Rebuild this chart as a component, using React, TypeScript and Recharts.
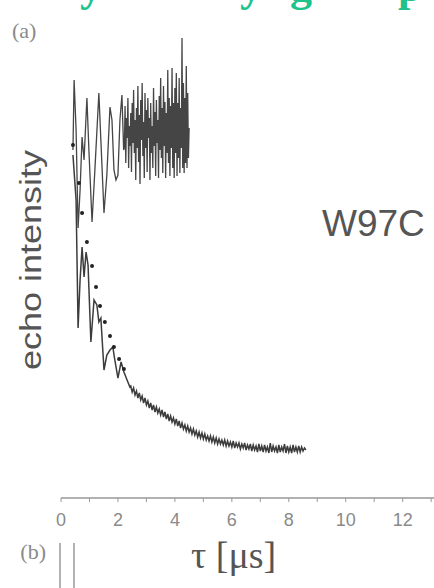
import React from "react";
import { ComposedChart, Line, XAxis, YAxis } from "recharts";

// x ticks (tau in microseconds)
const xTicks = [0, 1, 2, 3, 4, 5, 6, 7, 8, 9, 10, 11, 12, 13];
const xLabelTicks = [0, 2, 4, 6, 8, 10, 12];

// upper oscillating trace (tau, echo intensity in arbitrary units)
const upperT = [
  0.42, 0.46, 0.53, 0.6, 0.67, 0.74, 0.81, 0.91, 0.98, 1.09, 1.19, 1.33, 1.4, 1.51, 1.61, 1.72, 1.79, 1.86, 1.93, 2.0,
  2.07, 2.14, 2.2,
  2.225, 2.25, 2.275, 2.3, 2.325, 2.35, 2.375, 2.4, 2.425, 2.45, 2.475, 2.5, 2.525, 2.55, 2.575, 2.6, 2.625, 2.65,
  2.675, 2.7, 2.725, 2.75, 2.775, 2.8, 2.825, 2.85, 2.875, 2.9, 2.925, 2.95, 2.975, 3.0, 3.025, 3.05, 3.075, 3.1,
  3.125, 3.15, 3.175, 3.2, 3.225, 3.25, 3.275, 3.3, 3.325, 3.35, 3.375, 3.4, 3.425, 3.45, 3.475, 3.5, 3.525, 3.55,
  3.575, 3.6, 3.625, 3.65, 3.675, 3.7, 3.725, 3.75, 3.775, 3.8, 3.825, 3.85, 3.875, 3.9, 3.925, 3.95, 3.975, 4.0,
  4.025, 4.05, 4.075, 4.1, 4.125, 4.15, 4.175, 4.2, 4.225, 4.25, 4.275, 4.3, 4.325, 4.35, 4.375, 4.4, 4.425, 4.45,
  4.475, 4.5,
];
const upperV = [
  348, 418, 368, 270, 308, 361, 338, 400, 348, 276, 328, 405, 358, 285, 323, 391, 378, 328, 318, 323,
  378, 403, 348,
  350, 392, 335, 380, 360, 400, 330, 372, 352, 385, 326, 395, 355, 408, 345, 378, 318, 390,
  350, 412, 336, 383, 314, 398, 358, 415, 342, 376, 320, 405, 350, 388, 326, 400, 360, 380,
  318, 395, 345, 372, 330, 410, 352, 386, 322, 398, 355, 378, 320, 402, 348, 420, 340, 390,
  325, 412, 352, 396, 320, 385, 345, 428, 335, 400, 322, 392, 350, 430, 330, 395, 320, 410,
  345, 425, 322, 395, 340, 420, 325, 390, 350, 460, 330, 415, 325, 400, 335, 432, 330, 405,
  340, 370,
];

// lower decaying trace
const lowerT = [
  0.42, 0.53, 0.6, 0.67, 0.74, 0.81, 0.88, 0.95, 1.05, 1.16, 1.26, 1.33, 1.4, 1.51, 1.61, 1.72, 1.82, 1.89, 2.0, 2.11,
  2.21, 2.32, 2.42,
  2.45, 2.5, 2.55, 2.6, 2.65, 2.7, 2.75, 2.8, 2.85, 2.9, 2.95, 3.0, 3.05, 3.1, 3.15, 3.2, 3.25, 3.3, 3.35, 3.4,
  3.45, 3.5, 3.55, 3.6, 3.65, 3.7, 3.75, 3.8, 3.85, 3.9, 3.95, 4.0, 4.05, 4.1, 4.15, 4.2, 4.25, 4.3, 4.35, 4.4,
  4.45, 4.5, 4.55, 4.6, 4.65, 4.7, 4.75, 4.8, 4.85, 4.9, 4.95, 5.0, 5.05, 5.1, 5.15, 5.2, 5.25, 5.3, 5.35, 5.4,
  5.45, 5.5, 5.55, 5.6, 5.65, 5.7, 5.75, 5.8, 5.85, 5.9, 5.95, 6.0, 6.05, 6.1, 6.15, 6.2, 6.25, 6.3, 6.35, 6.4,
  6.45, 6.5, 6.55, 6.6, 6.65, 6.7, 6.75, 6.8, 6.85, 6.9, 6.95, 7.0, 7.05, 7.1, 7.15, 7.2, 7.25, 7.3, 7.35, 7.4,
  7.45, 7.5, 7.55, 7.6, 7.65, 7.7, 7.75, 7.8, 7.85, 7.9, 7.95, 8.0, 8.05, 8.1, 8.15, 8.2, 8.25, 8.3, 8.35, 8.4,
  8.45, 8.5, 8.55, 8.6,
];
const lowerV = [
  343, 298, 170, 218, 251, 221, 246, 233, 156, 198, 193, 176, 180, 128, 143, 148, 151, 138, 120, 136,
  126, 118, 111,
  112, 106, 110, 103, 107, 100, 105, 98, 102, 95, 100, 93, 97, 90, 95, 88, 93, 86, 91, 85,
  89, 83, 88, 81, 86, 79, 84, 77, 82, 76, 80, 74, 79, 72, 77, 70, 75, 69, 73, 67,
  72, 66, 70, 64, 69, 63, 67, 61, 66, 60, 65, 59, 64, 58, 62, 57, 62, 56, 61, 55,
  60, 54, 59, 54, 58, 53, 58, 52, 57, 52, 56, 51, 57, 50, 55, 51, 55, 49, 54, 50,
  55, 48, 53, 49, 54, 47, 53, 48, 52, 46, 54, 47, 52, 46, 53, 47, 51, 45, 55, 46,
  52, 47, 51, 45, 53, 46, 51, 47, 54, 45, 52, 46, 51, 45, 53, 46, 51, 46, 52, 46,
  51, 47, 50, 48,
];

// fitted points (dots)
const dotT = [0.42, 0.63, 0.74, 0.91, 1.09, 1.23, 1.37, 1.54, 1.72, 1.86, 2.04, 2.21];
const dotV = [353, 315, 285, 256, 232, 211, 192, 176, 162, 151, 139, 129];

const upperData = upperT.map((t, i) => ({ t, v: upperV[i] }));
const lowerData = lowerT.map((t, i) => ({ t, v: lowerV[i] }));
const dotData = dotT.map((t, i) => ({ t, v: dotV[i] }));

const Tick = (props: any) => {
  const { x, y, payload } = props;
  if (!xLabelTicks.includes(payload.value)) return <g />;
  return (
    <text x={x} y={y} dy="0.71em" textAnchor="middle" fontFamily="Liberation Sans, Arial, sans-serif" fontSize={18} fill="#8a8a8a">
      {payload.value}
    </text>
  );
};

export default function App() {
  return (
    <div style={{ position: "absolute", left: 0, top: 0, width: 434, height: 588, background: "#fff", overflow: "hidden" }}>
      <ComposedChart width={434} height={588} margin={{ top: 5, right: 0, left: 61, bottom: 60 }}>
        <XAxis
          type="number"
          dataKey="t"
          domain={[0, 13.1]}
          ticks={xTicks}
          interval={0}
          allowDataOverflow
          height={30}
          tickSize={4}
          tickMargin={11}
          tick={<Tick />}
          axisLine={{ stroke: "#999", strokeWidth: 1.5 }}
          tickLine={{ stroke: "#999" }}
        />
        <YAxis
          type="number"
          dataKey="v"
          domain={[0, 493]}
          width={0}
          tick={false}
          tickLine={false}
          axisLine={{ stroke: "#999", strokeWidth: 1.5 }}
        />
        <Line data={lowerData} dataKey="v" type="linear" stroke="#3c3c3c" strokeWidth={1.5} dot={false} isAnimationActive={false} />
        <Line data={upperData} dataKey="v" type="linear" stroke="#454545" strokeWidth={1.3} dot={false} isAnimationActive={false} />
        <Line data={dotData} dataKey="v" type="linear" stroke="none" dot={{ r: 2, fill: "#222", stroke: "none" }} isAnimationActive={false} />
      </ComposedChart>
      <svg width={434} height={588} style={{ position: "absolute", left: 0, top: 0, pointerEvents: "none" }}>
        <g fontFamily="Liberation Serif, Times New Roman, serif" fontWeight="bold" fontSize={44} fill="#1ec28b">
          <text x={80} y={1}>y</text>
          <text x={240} y={1}>y</text>
          <text x={290} y={1}>g</text>
          <text x={398} y={1}>p</text>
        </g>
        <text x={12} y={38} fontFamily="Liberation Serif, Times New Roman, serif" fontSize={22} fill="#8a8a8a">(a)</text>
        <text x={46} y={559} textAnchor="end" fontFamily="Liberation Serif, Times New Roman, serif" fontSize={22} fill="#8a8a8a">(b)</text>
        <line x1={60} y1={543} x2={60} y2={588} stroke="#999" strokeWidth={1.5} />
        <line x1={74} y1={543} x2={74} y2={588} stroke="#999" strokeWidth={1.5} />
        <text
          transform="translate(41,260) rotate(-90) scale(1.24,1)"
          textAnchor="middle"
          fontFamily="Liberation Sans, Arial, sans-serif"
          fontSize={29}
          fill="#555"
        >
          echo intensity
        </text>
        <text x={322} y={236} fontFamily="Liberation Sans, Arial, sans-serif" fontSize={37} fill="#555">W97C</text>
        <text x={191} y={568} fontFamily="Liberation Serif, Times New Roman, serif" fontSize={38} fill="#555">τ [μs]</text>
      </svg>
    </div>
  );
}
